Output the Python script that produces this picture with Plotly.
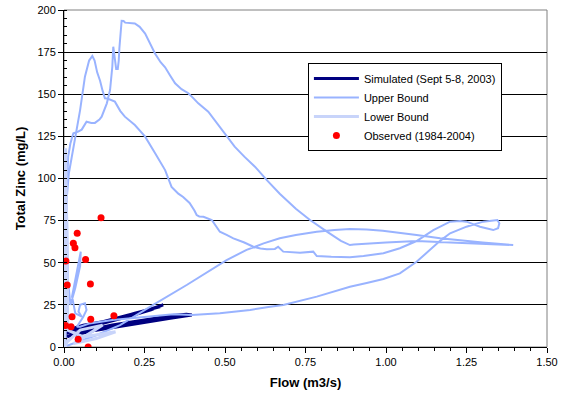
import plotly.graph_objects as go

# Upper Bound (two hysteresis loops, continuous path)
upper_flow = [0.004,0.005,0.007,0.010,0.013,0.020,0.029,0.044,0.055,0.070,0.085,0.096,0.110,0.117,0.133,0.143,0.150,0.153,0.158,0.162,0.167,0.170,0.172,0.176,0.179,0.185,0.190,0.220,0.235,0.252,0.268,0.283,0.300,0.314,0.330,0.345,0.365,0.386,0.400,0.417,0.448,0.470,0.490,0.530,0.560,0.593,0.630,0.670,0.720,0.764,0.820,0.860,0.888,0.900,1.000,1.095,1.200,1.300,1.395,1.300,1.200,1.168,1.095,1.040,0.990,0.940,0.888,0.840,0.785,0.720,0.670,0.620,0.567,0.505,0.438,0.381,0.277,0.174,0.100,0.040,0.006,
              0.004,0.005,0.008,0.015,0.024,0.037,0.050,0.065,0.078,0.088,0.095,0.103,0.112,0.120,0.127,0.135,0.143,0.158,0.175,0.189,0.220,0.252,0.283,0.314,0.334,0.355,0.370,0.390,0.405,0.412,0.420,0.433,0.459,0.484,0.505,0.526,0.560,0.588,0.610,0.630,0.655,0.665,0.681,0.733,0.774,0.785,0.830,0.888,0.930,0.971,0.992,1.043,1.095,1.147,1.199,1.230,1.250,1.292,1.333,1.348,1.352,1.346,1.323,1.302,1.250,1.199,1.168,1.147,1.095,1.043,0.992,0.940,0.888,0.785,0.681,0.640,0.578,0.484,0.397,0.340,0.250,0.150,0.080,0.050,
              0.040,0.060,0.070,0.065,0.050,0.045,0.055,0.035,0.025,0.045,0.052,0.050,0.035,0.020,0.012,0.010,0.008,0.006,0.005,0.004]
upper_zinc = [0,30,70,100,113,121,126.8,127.8,129,133.7,133,133,135,136.7,144.6,152.5,166.3,178.2,172.3,165,165,170,177.3,186.2,193.6,193.5,192.5,192,190,186,180,174,169,166,161,156.5,153,150.6,148,144.6,139.6,134,128.8,118.9,113,107,99,91,82,75.4,68,63,60.5,60.8,62,62.9,62,61.3,60.5,62,63.9,64.5,66.5,68,69,69.8,70,69.5,68.4,66.5,64.5,61.5,57.6,51.6,43.6,36.8,25,13,7,3,0.5,
              0,45,87,103,113,128,140.6,160.4,170,172.7,170,163,158,152,147.6,147.5,147,145.6,140,136.7,131.7,124.8,115,105,95,91,89,85.5,81,78.3,77.5,77.3,75.4,68.4,66.5,64.5,62,59.5,58.5,58,58.2,59.5,56.6,56,56.6,54,53.5,53.2,54,55.2,55.6,58.6,62.9,69.4,74.4,74.8,74.4,71.4,69.4,70.5,73.4,75.4,75,74.4,71.4,67.5,63,59.5,50.6,43.7,40.4,38,35.8,29.9,24.9,23.9,22,20,19,19.5,18,16,14,12,
              12,18,22,26,25,21,18,20,30,50,56.6,48,35,25,40,70,95,60,20,5]

# Lower Bound
lower_flow = [0.003,0.005,0.008,0.010,0.012,0.060,0.160,0.100,0.030,0.120,0.050,0.010,0.003]
lower_zinc = [0,118,80,40,10,6,9,5,2,13,10,3,0]

# Simulated (Sept 5-8, 2003)
sim_flow = [0.005,0.006,0.008,0.030,0.100,0.200,0.260,0.308,0.270,0.200,0.100,0.030,0.010,0.050,0.150,0.250,0.330,0.380,0.397,0.330,0.200,0.100,0.030,0.010,0.060,0.150,0.220,0.280,0.300]
sim_zinc = [4,16,8,10,14,19,22,25,22,18,13,8,6,9,13,16,18.5,19.5,19,17,13,10,7,10,13,16,20,23,24]

# Observed (1984-2004)
obs_flow = [0.115,0.041,0.029,0.034,0.067,0.006,0.010,0.082,0.025,0.083,0.155,0.005,0.022,0.044,0.075]
obs_zinc = [76.7,67.5,61.5,58.9,52,51,36.8,37.4,18,16.4,18.6,12.7,12,4.6,0]

fig = go.Figure()
fig.add_trace(go.Scatter(x=sim_flow, y=sim_zinc, mode="lines", name="Simulated (Sept 5-8, 2003)",
                         line=dict(color="#000080", width=3)))
fig.add_trace(go.Scatter(x=upper_flow, y=upper_zinc, mode="lines", name="Upper Bound",
                         line=dict(color="#99B3FF", width=2)))
fig.add_trace(go.Scatter(x=lower_flow, y=lower_zinc, mode="lines", name="Lower Bound",
                         line=dict(color="#C8D4FA", width=3)))
fig.add_trace(go.Scatter(x=obs_flow, y=obs_zinc, mode="markers", name="Observed (1984-2004)",
                         marker=dict(color="#FF0000", size=7)))

font = "Liberation Sans, Arial, sans-serif"
fig.update_layout(
    width=572, height=398,
    margin=dict(l=64, r=25, t=10, b=51),
    paper_bgcolor="white", plot_bgcolor="white",
    font=dict(family=font, size=11, color="black"),
    showlegend=True,
    legend=dict(x=0.505, y=0.843, xanchor="left", yanchor="top",
                bgcolor="white", bordercolor="black", borderwidth=1,
                font=dict(size=11), tracegroupgap=0, itemwidth=45),
    xaxis=dict(range=[0, 1.5], tickvals=[0, 0.25, 0.5, 0.75, 1.0, 1.25, 1.5],
               ticktext=["0.00", "0.25", "0.50", "0.75", "1.00", "1.25", "1.50"],
               showgrid=False, zeroline=False, showline=True, linecolor="black", linewidth=1,
               ticks="outside", ticklen=5, tickcolor="black", automargin=False,
               minor=dict(dtick=0.05, ticks="outside", ticklen=3, tickcolor="black"),
               title=dict(text="<b>Flow (m3/s)</b>", font=dict(size=13), standoff=10)),
    yaxis=dict(range=[0, 200], dtick=25, showgrid=True, gridcolor="black", gridwidth=1,
               zeroline=False, showline=True, linecolor="black", linewidth=1,
               ticks="outside", ticklen=5, tickcolor="black", automargin=False,
               minor=dict(dtick=5, ticks="inside", ticklen=3, tickcolor="black", showgrid=False),
               title=dict(text="<b>Total Zinc (mg/L)</b>", font=dict(size=13), standoff=8)),
)
# plot area border on top/right
fig.add_shape(type="rect", xref="paper", yref="paper", x0=0, y0=0, x1=1, y1=1,
              line=dict(color="#808080", width=1), layer="below")

fig.write_html("out.html", config={"displayModeBar": False},
               post_script="document.body.style.margin='0';")
